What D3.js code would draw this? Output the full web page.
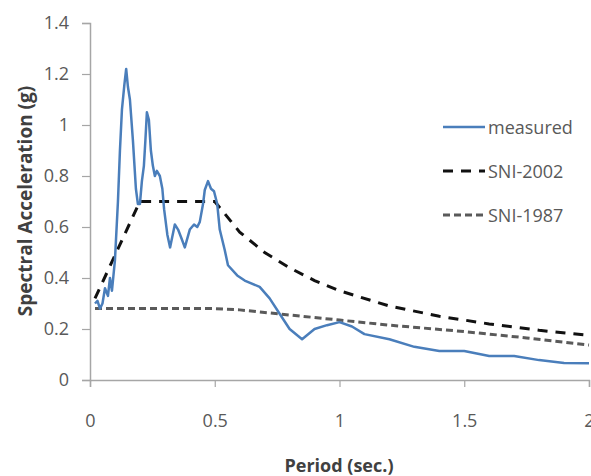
<!DOCTYPE html>
<html>
<head>
<meta charset="utf-8">
<script src="https://cdn.jsdelivr.net/npm/d3@7"></script>
<style>
  html, body { margin: 0; padding: 0; background: #fff; }
  svg text { font-family: "Open Sans", "Noto Sans", sans-serif; }
</style>
</head>
<body>
<div id="chart"></div>
<script>
// ---- Data ----
const measuredT = [0.02, 0.03, 0.04, 0.05, 0.06, 0.072, 0.08, 0.088, 0.1, 0.112, 0.12, 0.128, 0.138, 0.145,
  0.152, 0.16, 0.172, 0.184, 0.192, 0.2, 0.208, 0.216, 0.222, 0.228, 0.236, 0.244, 0.252, 0.26, 0.268,
  0.28, 0.29, 0.297, 0.31, 0.321, 0.34, 0.353, 0.365, 0.38, 0.40, 0.417, 0.43, 0.44, 0.453, 0.46,
  0.473, 0.485, 0.497, 0.51, 0.52, 0.54, 0.553, 0.59, 0.62, 0.68, 0.72, 0.76, 0.80, 0.85, 0.90,
  0.95, 1.0, 1.05, 1.1, 1.2, 1.3, 1.4, 1.5, 1.6, 1.7, 1.8, 1.9, 2.0];
const measuredSa = [0.30, 0.31, 0.28, 0.30, 0.36, 0.33, 0.40, 0.35, 0.47, 0.70, 0.90, 1.06, 1.16, 1.22,
  1.15, 1.10, 0.94, 0.75, 0.69, 0.69, 0.78, 0.84, 0.94, 1.05, 1.02, 0.90, 0.84, 0.80, 0.82,
  0.80, 0.75, 0.67, 0.57, 0.52, 0.61, 0.59, 0.56, 0.52, 0.59, 0.61, 0.60, 0.62, 0.69, 0.745,
  0.78, 0.75, 0.74, 0.69, 0.59, 0.51, 0.45, 0.41, 0.39, 0.365, 0.32, 0.26, 0.20, 0.16, 0.20,
  0.215, 0.227, 0.21, 0.18, 0.16, 0.13, 0.114, 0.114, 0.094, 0.094, 0.078, 0.067, 0.066];

const sni2002T  = [0.02, 0.2, 0.5, 0.6, 0.7, 0.8, 0.9, 1.0, 1.2, 1.4, 1.6, 1.8, 2.0];
const sni2002Sa = [0.32, 0.70, 0.70, 0.58, 0.50, 0.44, 0.39, 0.35, 0.29, 0.25, 0.22, 0.195, 0.175];

const sni1987T  = [0.02, 0.5, 0.6, 0.7, 0.8, 1.0, 1.2, 1.5, 1.75, 2.0];
const sni1987Sa = [0.28, 0.28, 0.275, 0.265, 0.255, 0.235, 0.215, 0.19, 0.165, 0.137];

const xTicks = [0, 0.5, 1, 1.5, 2];
const yTicks = [0, 0.2, 0.4, 0.6, 0.8, 1, 1.2, 1.4];

const seriesNames = ["measured", "SNI-2002", "SNI-1987"];

// ---- Layout ----
const W = 591, H = 476;
const svg = d3.select("#chart").append("svg").attr("width", W).attr("height", H);

const x = d3.scaleLinear().domain([0, 2]).range([90, 589]);
const y = d3.scaleLinear().domain([0, 1.4]).range([380, 23]);

const axisColor = "#a6a6a6";
const labelColor = "#595959";

// y axis
const yAxis = svg.append("g").attr("transform", `translate(${x(0)},0)`)
  .call(d3.axisLeft(y).tickValues(yTicks).tickSize(8).tickPadding(13)
    .tickFormat(d => String(d)));
yAxis.select(".domain").attr("stroke", axisColor).attr("stroke-width", 1.5);
yAxis.selectAll(".tick line").attr("stroke", axisColor).attr("stroke-width", 1.2);
yAxis.selectAll(".tick text").attr("fill", labelColor).attr("font-size", 18)
  .attr("font-family", "'Open Sans', sans-serif");

// x axis
const xAxis = svg.append("g").attr("transform", `translate(0,${y(0)})`)
  .call(d3.axisBottom(x).tickValues(xTicks).tickSize(7).tickPadding(27)
    .tickFormat(d => String(d)));
xAxis.select(".domain").attr("stroke", axisColor).attr("stroke-width", 1.5);
xAxis.selectAll(".tick line").attr("stroke", axisColor).attr("stroke-width", 1.2);
xAxis.selectAll(".tick text").attr("fill", labelColor).attr("font-size", 18)
  .attr("font-family", "'Open Sans', sans-serif");

// axis titles
svg.append("text")
  .attr("transform", "translate(25,201) rotate(-90)")
  .attr("text-anchor", "middle")
  .attr("dominant-baseline", "central")
  .attr("font-size", 19).attr("font-weight", 700).attr("fill", "#404040")
  .text("Spectral Acceleration (g)");

svg.append("text")
  .attr("x", 339).attr("y", 472)
  .attr("text-anchor", "middle")
  .attr("font-size", 18).attr("font-weight", 700).attr("fill", "#404040")
  .text("Period (sec.)");

// ---- Lines ----
const line = d3.line().x(d => x(d[0])).y(d => y(d[1]));
const zip = (a, b) => a.map((t, i) => [t, b[i]]);

const styles = [
  { stroke: "#4a7ebb", width: 2.5, dash: null },
  { stroke: "#111111", width: 3, dash: "10,8" },
  { stroke: "#5a5a5a", width: 3, dash: "7,4" }
];

svg.append("path").datum(zip(sni1987T, sni1987Sa))
  .attr("d", line).attr("fill", "none")
  .attr("stroke", styles[2].stroke).attr("stroke-width", styles[2].width)
  .attr("stroke-dasharray", styles[2].dash);

svg.append("path").datum(zip(sni2002T, sni2002Sa))
  .attr("d", line).attr("fill", "none")
  .attr("stroke", styles[1].stroke).attr("stroke-width", styles[1].width)
  .attr("stroke-dasharray", styles[1].dash);

svg.append("path").datum(zip(measuredT, measuredSa))
  .attr("d", line).attr("fill", "none")
  .attr("stroke", styles[0].stroke).attr("stroke-width", styles[0].width)
  .attr("stroke-linejoin", "round");

// ---- Legend ----
const legend = svg.append("g");
seriesNames.forEach((name, i) => {
  const ly = 127 + i * 44;
  legend.append("line")
    .attr("x1", 443).attr("x2", 485).attr("y1", ly).attr("y2", ly)
    .attr("stroke", styles[i].stroke).attr("stroke-width", styles[i].width)
    .attr("stroke-dasharray", styles[i].dash);
  legend.append("text")
    .attr("x", 488).attr("y", ly)
    .attr("dominant-baseline", "central")
    .attr("font-size", 18).attr("fill", labelColor)
    .text(name);
});
</script>
</body>
</html>
